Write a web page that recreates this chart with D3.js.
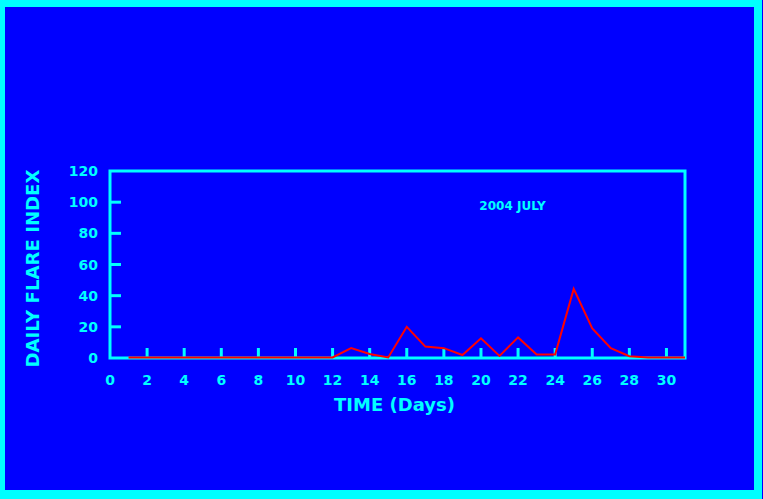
<!DOCTYPE html>
<html>
<head>
<meta charset="utf-8">
<script src="https://cdn.jsdelivr.net/npm/d3@7"></script>
<style>
  body { margin: 0; background: #0000ff; }
  text { font-family: 'DejaVu Sans', sans-serif; font-weight: bold; fill: #00ffff; }
</style>
</head>
<body>
<div id="chart"></div>
<script>
const days = d3.range(1, 32);
const flareIndex = [0, 0, 0, 0, 0, 0, 0, 0, 0, 0, 0, 0, 6, 2.2, 0, 19.7, 7, 6, 1.6, 12.3,
  1, 12.9, 2, 2, 44, 18.6, 6, 0.8, 0, 0, 0];
const xTicks = d3.range(0, 31, 2);
const yTicks = [0, 20, 40, 60, 80, 100, 120];
const title = '2004 JULY';

const W = 763;
const H = 499;
const cyan = '#00ffff';
const margin = {
  top: 171, right: 78, bottom: 141, left: 110,
};
const width = W - margin.left - margin.right;
const height = H - margin.top - margin.bottom;

const svg = d3.select('#chart').append('svg')
  .attr('width', W)
  .attr('height', H);

svg.append('rect')
  .attr('width', W)
  .attr('height', H)
  .attr('fill', '#0000ff');

// outer frame, uneven thickness like the original
svg.append('path')
  .attr('d', `M0,0H762V499H0Z M5,7V490H754V7Z`)
  .attr('fill', cyan)
  .attr('fill-rule', 'evenodd');

const g = svg.append('g')
  .attr('transform', `translate(${margin.left}, ${margin.top})`);

const x = d3.scaleLinear().domain([0, 31]).range([0, width]);
const y = d3.scaleLinear().domain([0, 120]).range([height, 0]);

// y ticks, pointing inward
g.selectAll('.ytick')
  .data(yTicks.slice(1, -1))
  .enter().append('line')
  .attr('x1', 0)
  .attr('x2', 11)
  .attr('y1', d => y(d))
  .attr('y2', d => y(d))
  .attr('stroke', cyan)
  .attr('stroke-width', 3);

g.selectAll('.ylabel')
  .data(yTicks)
  .enter().append('text')
  .attr('x', -12)
  .attr('y', d => y(d))
  .attr('dy', '0.36em')
  .attr('text-anchor', 'end')
  .style('font-size', '14px')
  .text(d => d);

// x ticks, pointing up
g.selectAll('.xtick')
  .data(xTicks.slice(1))
  .enter().append('line')
  .attr('x1', d => x(d))
  .attr('x2', d => x(d))
  .attr('y1', height)
  .attr('y2', height - 10)
  .attr('stroke', cyan)
  .attr('stroke-width', 3);

g.selectAll('.xlabel')
  .data(xTicks)
  .enter().append('text')
  .attr('x', d => x(d))
  .attr('y', height + 22)
  .attr('dy', '0.36em')
  .attr('text-anchor', 'middle')
  .style('font-size', '14px')
  .text(d => d);

// plot box
g.append('rect')
  .attr('width', width)
  .attr('height', height)
  .attr('fill', 'none')
  .attr('stroke', cyan)
  .attr('stroke-width', 3);

// the data line, on top of the axis
const line = d3.line()
  .x((d, i) => x(days[i]))
  .y(d => y(d) - 0.5);

g.append('path')
  .datum(flareIndex)
  .attr('d', line)
  .attr('fill', 'none')
  .attr('stroke', '#ff0000')
  .attr('stroke-width', 2);

g.append('text')
  .attr('x', x(21.7))
  .attr('y', y(97.5))
  .attr('dy', '0.36em')
  .attr('text-anchor', 'middle')
  .style('font-size', '12px')
  .text(title);

// axis titles
g.append('text')
  .attr('text-anchor', 'middle')
  .attr('transform', `translate(${width / 2 - 3}, ${height + 47})`)
  .attr('dy', '0.36em')
  .style('font-size', '18px')
  .text('TIME (Days)');

g.append('text')
  .attr('text-anchor', 'middle')
  .attr('transform', `translate(${-77}, ${height / 2 + 4})rotate(-90)`)
  .attr('dy', '0.36em')
  .attr('textLength', 198)
  .attr('lengthAdjust', 'spacingAndGlyphs')
  .style('font-size', '18px')
  .text('DAILY FLARE INDEX');
</script>
</body>
</html>
